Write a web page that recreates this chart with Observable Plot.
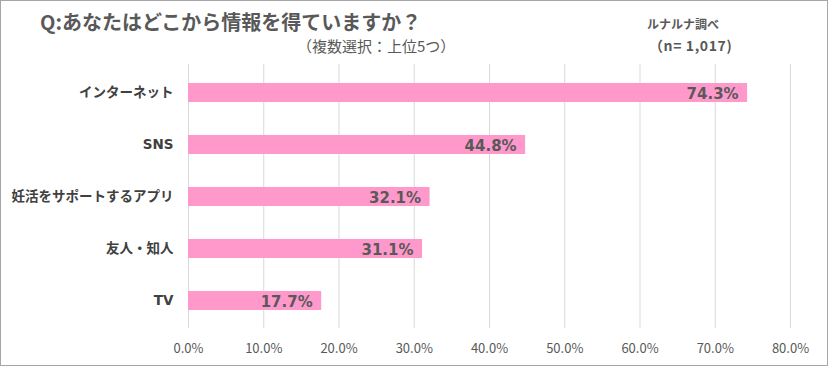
<!DOCTYPE html>
<html><head><meta charset="utf-8">
<script src="https://cdn.jsdelivr.net/npm/d3@7"></script>
<script src="https://cdn.jsdelivr.net/npm/@observablehq/plot@0.6"></script>
<style>
body{margin:0;background:#fff;}
#wrap{position:relative;width:826px;height:364px;border:1px solid #a6a6a6;font-family:"Noto Sans CJK JP","Noto Sans",sans-serif;color:#595959;overflow:hidden;}
.t{position:absolute;line-height:1;white-space:nowrap;}
#chart{position:absolute;left:0;top:0;}
</style></head>
<body>
<div id="wrap">
  <div id="chart"></div>
  <div class="t" style="left:39px;top:11px;font-size:20px;font-weight:bold;">Q:あなたはどこから情報を得ていますか？</div>
  <div class="t" style="left:296px;top:37px;font-size:15px;">（複数選択：上位5つ）</div>
  <div class="t" style="left:646px;top:17px;font-size:12px;font-weight:bold;">ルナルナ調べ</div>
  <div class="t" style="left:648px;top:37px;font-size:14px;font-weight:bold;letter-spacing:0.6px;">（n= 1,017)</div>
</div>
<script>
const categories = ["インターネット", "SNS", "妊活をサポートするアプリ", "友人・知人", "TV"];
const values = [74.3, 44.8, 32.1, 31.1, 17.7];
const xTicks = [0, 10, 20, 30, 40, 50, 60, 70, 80];

const data = categories.map((c, i) => ({category: c, value: values[i]}));
const fmt = d => d.toFixed(1) + "%";

const chart = Plot.plot({
  width: 826,
  height: 364,
  marginLeft: 187,
  marginRight: 37,
  marginTop: 63,
  marginBottom: 37,
  style: {fontFamily: '"Noto Sans CJK JP","Noto Sans",sans-serif', color: "#595959", background: "transparent"},
  x: {domain: [0, 80], label: null},
  y: {domain: categories, paddingInner: 0.64, paddingOuter: 0.32, label: null},
  marks: [
    Plot.gridX(xTicks, {stroke: "#d9d9d9", strokeOpacity: 1}),
    Plot.barX(data, {x: "value", y: "category", fill: "#ff99cc"}),
    Plot.text(data, {x: "value", y: "category", text: d => fmt(d.value), textAnchor: "end", dx: -9, dy: 1,
      fontFamily: '"DejaVu Sans",sans-serif', fontWeight: "bold", fontSize: 15, fill: "#595959"}),
    Plot.axisX(xTicks, {tickSize: 0, tickPadding: 15, tickFormat: fmt, fontSize: 13, color: "#595959", label: null}),
    Plot.axisY({tickSize: 0, tickPadding: 15, fontSize: 13.5, fontWeight: "bold", color: "#404040", label: null,
      fontFamily: '"DejaVu Sans","Noto Sans CJK JP",sans-serif'})
  ]
});
document.getElementById("chart").appendChild(chart);
</script>
</body></html>
